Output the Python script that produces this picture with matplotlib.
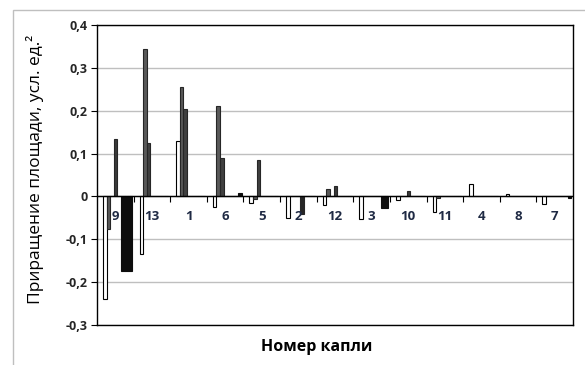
import numpy as np
import matplotlib
matplotlib.use('Agg')
import matplotlib.pyplot as plt
from matplotlib.patches import Rectangle

plt.rcParams['font.family'] = ['Open Sans', 'DejaVu Sans']

# category labels (drop numbers) and bar values, one list per series slot
drops = ['9', '13', '1', '6', '5', '2', '12', '3', '10', '11', '4', '8', '7']
s0 = [-0.24, -0.135, 0.13, -0.025, -0.015, -0.05, -0.02, -0.053, -0.008, -0.037, 0.03, 0.005, -0.018]
s1 = [-0.075, 0.345, 0.255, 0.21, -0.006, 0, 0.017, 0, 0, -0.004, 0, 0, 0]
s2 = [0, 0.125, 0.205, 0.09, 0.085, 0, 0, 0, 0, 0, 0, 0, 0]
s3 = [0.135, 0, 0, 0, 0, 0, 0.025, 0, 0.013, 0, 0, 0, 0]
s4 = [0, 0, 0, 0, 0, -0.04, 0, 0, 0, 0, 0, 0, 0]
s5 = [-0.175, 0, 0, 0, 0, 0, 0, 0, 0, 0, 0, 0, 0]
s6 = [-0.175, 0, 0, 0, 0, 0, 0, -0.026, 0, 0, 0, 0, 0]
s7 = [-0.175, 0, 0, 0.008, 0, 0, 0, -0.026, 0, 0, 0, 0, -0.003]
yticks = [-0.3, -0.2, -0.1, 0, 0.1, 0.2, 0.3, 0.4]

series = [s0, s1, s2, s3, s4, s5, s6, s7]
colors = ['white', '#595959', '#404040', '#3a3a3a', '#262626', '#0d0d0d', '#0d0d0d', '#0d0d0d']
edges = ['black', '#262626', '#262626', '#262626', '#262626', '#0d0d0d', '#0d0d0d', '#0d0d0d']

fig = plt.figure(figsize=(5.85, 3.65), dpi=100)
# chart area border
fig.patches.append(Rectangle((13/585, -0.1), 1.2, 1.1 - 10/365, transform=fig.transFigure,
                             fill=False, edgecolor='#bfbfbf', lw=1))
ax = fig.add_axes([97/585, 40/365, 476/585, 300/365])

x = np.arange(len(drops))
w = 0.0984
for k, vals in enumerate(series):
    ax.bar(x + 0.164 + k*w, vals, width=w, align='edge', color=colors[k],
           edgecolor=edges[k], linewidth=0.8, zorder=3)

ax.set_xlim(0, len(drops))
ax.set_ylim(-0.3, 0.4)
ax.set_yticks(yticks)
ax.set_yticklabels([('%g' % t).replace('.', ',') for t in yticks],
                   fontsize=9, fontweight='bold', color='#262626')
ax.tick_params(axis='y', length=4, width=0.8, pad=3)
ax.set_xticks([])
ax.grid(axis='y', color='#bfbfbf', lw=1, zorder=0)
for s in ax.spines.values():
    s.set_color('black')
    s.set_linewidth(1)

ax.axhline(0, color='black', lw=1, zorder=4)
ax.vlines(np.arange(1, len(drops)), 0, -0.012, color='black', lw=0.8, zorder=4)
for i, d in enumerate(drops):
    ax.text(i + 0.5, -0.047, d, ha='center', va='center', fontsize=9.5,
            fontweight='bold', color='#1f2a44', zorder=5)

fig.text(35/585, 1 - 169/365, 'Приращение площади, усл. ед.²', rotation=90,
         ha='center', va='center', fontsize=12.5)
fig.text(317/585, 1 - 347/365, 'Номер капли', ha='center', va='center',
         fontsize=11.5, fontweight='bold')

fig.savefig('out.png', dpi=100)
